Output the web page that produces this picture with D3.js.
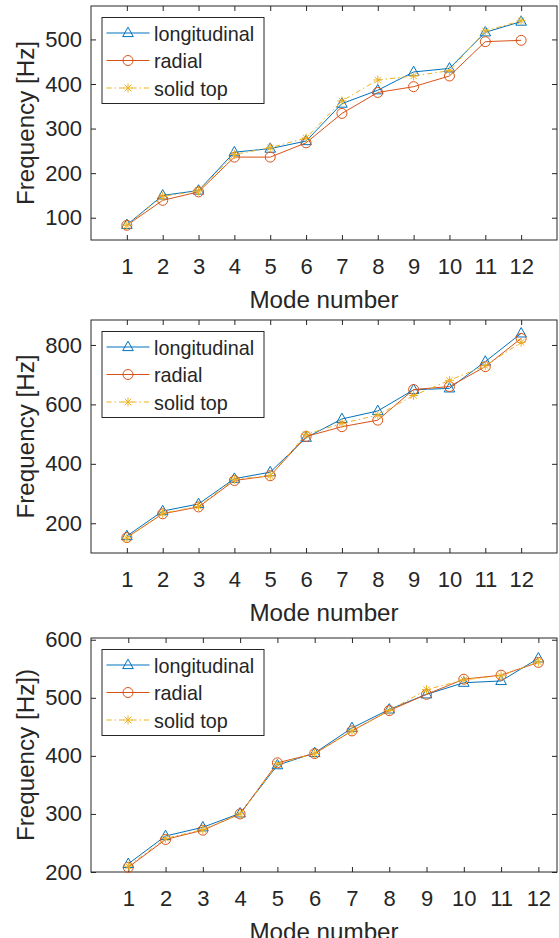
<!DOCTYPE html>
<html>
<head>
<meta charset="utf-8">
<script src="https://cdn.jsdelivr.net/npm/d3@7"></script>
<style>
  body { margin: 0; background: #fff; }
  text { font-family: "Liberation Sans", Arial, Helvetica, sans-serif; fill: #262626; }
</style>
</head>
<body>
<svg id="chart" width="559" height="938"></svg>
<script>
// mode numbers shared by all three panels
const modes = [1, 2, 3, 4, 5, 6, 7, 8, 9, 10, 11, 12];
const seriesNames = ["longitudinal", "radial", "solid top"];

// panel 1
const longitudinal1 = [84, 150, 161, 247, 255, 272, 356, 386, 427, 435, 516, 540];
const radial1       = [83, 139, 158, 236, 236, 268, 334, 381, 394, 418, 495, 498];
const solidTop1     = [83, 148, 160, 242, 257, 279, 362, 409, 418, 430, 519, 542];
const yTicks1 = [100, 200, 300, 400, 500];

// panel 2
const longitudinal2 = [157, 241, 265, 350, 372, 488, 551, 578, 649, 654, 744, 839];
const radial2       = [152, 232, 255, 344, 360, 492, 525, 547, 650, 660, 727, 822];
const solidTop2     = [150, 234, 257, 348, 360, 499, 536, 564, 630, 681, 730, 809];
const yTicks2 = [200, 400, 600, 800];

// panel 3
const longitudinal3 = [214, 262, 277, 301, 384, 405, 448, 480, 506, 526, 529, 568];
const radial3       = [208, 256, 272, 300, 388, 404, 443, 478, 506, 532, 539, 561];
const solidTop3     = [210, 258, 273, 300, 386, 404, 443, 478, 514, 531, 538, 562];
const yTicks3 = [200, 300, 400, 500, 600];

const colors = ["#0072BD", "#D95319", "#EDB120"];
const dashes = [null, null, "5,3,1.5,3"];
const axisColor = "#262626";

const svg = d3.select("#chart");

const panels = [
  { top: 6,   bottom: 240, xMax: 13,   yDomain: [50, 575],  yTicks: yTicks1,
    series: [longitudinal1, radial1, solidTop1], ylabel: "Frequency [Hz]" },
  { top: 320, bottom: 553, xMax: 13,   yDomain: [100, 884], yTicks: yTicks2,
    series: [longitudinal2, radial2, solidTop2], ylabel: "Frequency [Hz]" },
  { top: 638, bottom: 872, xMax: 12.5, yDomain: [200, 603], yTicks: yTicks3,
    series: [longitudinal3, radial3, solidTop3], ylabel: "Frequency [Hz])" }
];

const left = 91, right = 557;

// marker shapes, centred on the point
function drawMarker(g, kind, color) {
  if (kind === 0) {
    g.append("path").attr("d", "M0,-5.8L5.3,3.6L-5.3,3.6Z")
      .attr("fill", "none").attr("stroke", color).attr("stroke-width", 1);
  } else if (kind === 1) {
    g.append("circle").attr("r", 5)
      .attr("fill", "none").attr("stroke", color).attr("stroke-width", 1);
  } else {
    g.append("path")
      .attr("d", "M-4.5,0L4.5,0M0,-4.5L0,4.5M-3.2,-3.2L3.2,3.2M3.2,-3.2L-3.2,3.2")
      .attr("fill", "none").attr("stroke", color).attr("stroke-width", 1);
  }
}

panels.forEach(p => {
  const x = d3.scaleLinear().domain([0, p.xMax]).range([left, right]);
  const y = d3.scaleLinear().domain(p.yDomain).range([p.bottom, p.top]);
  const g = svg.append("g");

  // axes, ticks pointing inward on all four sides
  const xAxis = g.append("g").attr("transform", `translate(0,${p.bottom})`)
    .call(d3.axisBottom(x).tickValues(modes).tickSizeInner(-5).tickSizeOuter(0).tickPadding(18));
  g.append("g").attr("transform", `translate(0,${p.top})`)
    .call(d3.axisTop(x).tickValues(modes).tickSizeInner(-5).tickSizeOuter(0).tickFormat(""));
  const yAxis = g.append("g").attr("transform", `translate(${left},0)`)
    .call(d3.axisLeft(y).tickValues(p.yTicks).tickSizeInner(-5).tickSizeOuter(0).tickPadding(9));
  g.append("g").attr("transform", `translate(${right},0)`)
    .call(d3.axisRight(y).tickValues(p.yTicks).tickSizeInner(-5).tickSizeOuter(0).tickFormat(""));

  g.selectAll(".domain").remove();
  g.selectAll(".tick line").attr("stroke", axisColor);
  g.selectAll(".tick text").attr("font-size", 22).attr("fill", axisColor)
    .style("font-family", "'Liberation Sans', Arial, sans-serif");

  g.append("rect")
    .attr("x", left).attr("y", p.top)
    .attr("width", right - left).attr("height", p.bottom - p.top)
    .attr("fill", "none").attr("stroke", axisColor).attr("stroke-width", 1);

  // lines and markers
  const line = d3.line().x((d, i) => x(modes[i])).y(d => y(d));
  p.series.forEach((vals, s) => {
    g.append("path").datum(vals)
      .attr("d", line)
      .attr("fill", "none")
      .attr("stroke", colors[s])
      .attr("stroke-width", 1)
      .attr("stroke-dasharray", dashes[s]);
    vals.forEach((v, i) => {
      const m = g.append("g").attr("transform", `translate(${x(modes[i])},${y(v)})`);
      drawMarker(m, s, colors[s]);
    });
  });

  // axis labels
  g.append("text")
    .attr("x", (left + right) / 2).attr("y", p.bottom + 68)
    .attr("text-anchor", "middle").attr("font-size", 24.2)
    .text("Mode number");
  g.append("text")
    .attr("transform", `translate(33.5,${(p.top + p.bottom) / 2}) rotate(-90)`)
    .attr("text-anchor", "middle").attr("font-size", 24.2)
    .text(p.ylabel);

  // legend
  const lg = g.append("g").attr("transform", `translate(${left + 11},${p.top + 11.5})`);
  lg.append("rect").attr("width", 162).attr("height", 86)
    .attr("fill", "#fff").attr("stroke", axisColor).attr("stroke-width", 1);
  seriesNames.forEach((name, s) => {
    const ry = 15.5 + s * 27.5;
    lg.append("line").attr("x1", 4.5).attr("x2", 47.5).attr("y1", ry).attr("y2", ry)
      .attr("stroke", colors[s]).attr("stroke-width", 1)
      .attr("stroke-dasharray", dashes[s]);
    drawMarker(lg.append("g").attr("transform", `translate(26,${ry})`), s, colors[s]);
    lg.append("text").attr("x", 52).attr("y", ry + 7.5)
      .attr("font-size", 19.8).attr("fill", "#000")
      .text(name);
  });
});
</script>
</body>
</html>
